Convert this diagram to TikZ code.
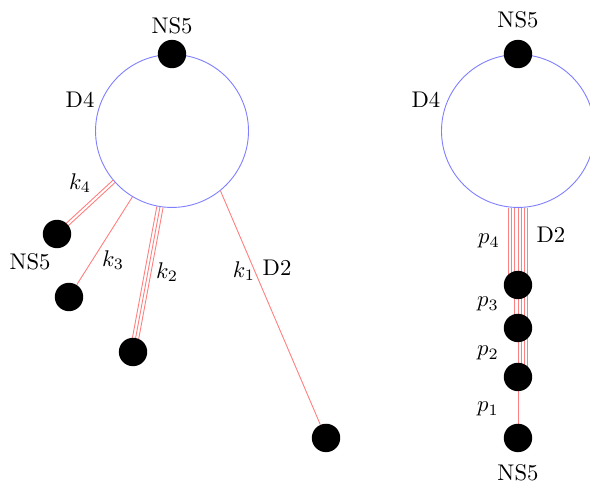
\documentclass[tikz,border=0pt]{standalone}
\usetikzlibrary{calc,backgrounds}
\begin{document}
\begin{tikzpicture}[dot/.style={circle,fill=black,inner sep=0pt,minimum size=0.44cm},
				dfour/.style={circle,draw=blue!50,inner sep=0pt,minimum size=2.37cm},
				dtwo/.style={red!50,line width=0.4pt}]
\useasboundingbox (-2.665,2.029) rectangle (6.476,-5.453);
% left: D4 with the D2s ending on NS5s
\node[dfour] (L) at (0,0) {};
\node[dot] (ltop) at (L.north) {};
\node[dot] (n4) at (-1.782,-1.596) {};
\node[dot] (n3) at (-1.596,-2.572) {};
\node[dot] (n2) at (-0.604,-3.424) {};
\node[dot] (n1) at (2.386,-4.756) {};
\node (lns) at (0,1.627) {NS5};
\node (lnsb) at (-2.2,-2.03) {NS5};
\node (ld4) at (-1.425,0.48) {D4};
\node (lk4) at (-1.425,-0.806) {$k_4$};
\node (lk3) at (-0.914,-1.998) {$k_3$};
\node (lk2) at (-0.077,-2.184) {$k_2$};
\node (lk1) at (1.115,-2.169) {$k_1$};
\node (ld2) at (1.627,-2.122) {D2};
\begin{pgfonlayer}{background}
\foreach \o in {-0.5,0.5}
	\draw[dtwo] ($(L.-139)!\o*1.4pt!90:(n4)$) -- ($(n4)!\o*1.4pt!-90:(L.-139)$);
\draw[dtwo] (L.-121) -- (n3);
\foreach \o in {-1,0,1}
	\draw[dtwo] ($(L.-99)!\o*1.4pt!90:(n2)$) -- ($(n2)!\o*1.4pt!-90:(L.-99)$);
\draw[dtwo] (L.-51) -- (n1);
\end{pgfonlayer}
% right: D4 with the D2s stacked
\node[dfour] (R) at (5.36,0) {};
\node[dot] (rtop) at (R.north) {};
\node[dot] (r4) at (5.36,-2.386) {};
\node[dot] (r3) at (5.36,-3.052) {};
\node[dot] (r2) at (5.36,-3.811) {};
\node[dot] (r1) at (5.36,-4.756) {};
\node (rns) at (5.36,1.72) {NS5};
\node (rnsb) at (5.36,-5.298) {NS5};
\node (rd4) at (3.935,0.48) {D4};
\node (rd2) at (5.871,-1.611) {D2};
\node (rp4) at (4.911,-1.704) {$p_4$};
\node (rp3) at (4.895,-2.68) {$p_3$};
\node (rp2) at (4.895,-3.439) {$p_2$};
\node (rp1) at (4.895,-4.307) {$p_1$};
\begin{pgfonlayer}{background}
\foreach \o in {-3,...,3}
	\draw[dtwo] ([xshift=\o*1.4pt]R.south) -- ([xshift=\o*1.4pt]r4.center);
\foreach \o in {-1,...,3}
	\draw[dtwo] ([xshift=\o*1.4pt]r4.center) -- ([xshift=\o*1.4pt]r3.center);
\foreach \o in {0,...,3}
	\draw[dtwo] ([xshift=\o*1.4pt]r3.center) -- ([xshift=\o*1.4pt]r2.center);
\draw[dtwo] (r2.center) -- (r1.center);
\end{pgfonlayer}
\end{tikzpicture}
\end{document}
